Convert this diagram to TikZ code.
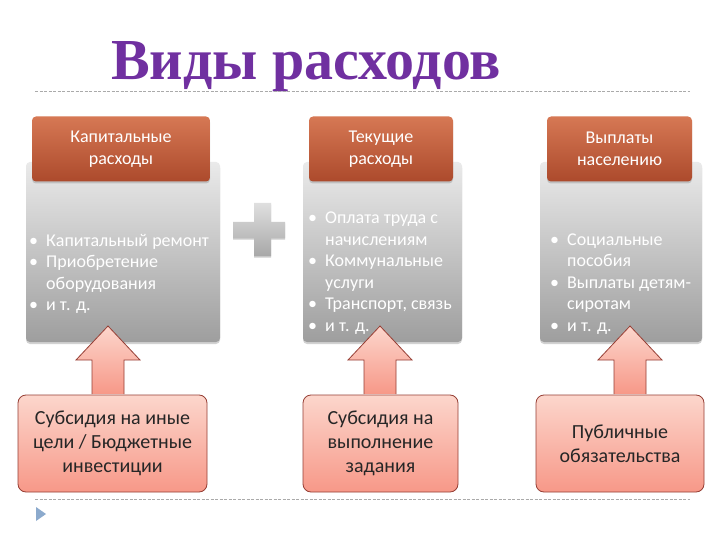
\documentclass[tikz,border=0pt]{standalone}
\usepackage{fontspec}
\setmainfont{Carlito}
\newfontfamily\titlefont{Liberation Serif}
\usetikzlibrary{calc,shadows}
\definecolor{ttl}{RGB}{112,48,160}
\definecolor{hdtop}{RGB}{214,120,84}
\definecolor{hdbot}{RGB}{172,74,44}
\definecolor{grtop}{RGB}{234,234,234}
\definecolor{grbot}{RGB}{158,158,158}
\definecolor{pktop}{RGB}{252,214,204}
\definecolor{pkbot}{RGB}{247,152,136}
\definecolor{pkline}{RGB}{150,62,52}
\definecolor{dashc}{RGB}{170,170,170}
\definecolor{tri}{RGB}{140,170,205}
\newcommand\bl{\makebox[17pt][l]{\textbullet}}
\newcommand\ind{\hspace*{17pt}}
\begin{document}
\begin{tikzpicture}[x=1pt,y=-1pt,
  titlestyle/.style={font=\titlefont\bfseries\fontsize{58}{62}\selectfont, text=ttl, inner sep=0pt},
  graybox/.style={rounded corners=4pt, top color=grtop, bottom color=grbot, draw=none,
     drop shadow={shadow xshift=0pt, shadow yshift=-2pt, opacity=0.35}},
  headbox/.style={rounded corners=4pt, top color=hdtop, bottom color=hdbot, draw=none,
     text=white, align=center, font=\fontsize{18}{22}\selectfont,
     drop shadow={shadow xshift=0pt, shadow yshift=-2pt, opacity=0.35}},
  pinkbox/.style={rounded corners=8pt, top color=pktop, bottom color=pkbot, draw=pkline, line width=0.8pt,
     align=center, font=\fontsize{20}{24}\selectfont, text=black!85},
  listtext/.style={anchor=west, align=left, inner sep=0pt, text=white, font=\fontsize{18}{21.5}\selectfont},
  blockarr/.style={top color=pktop, bottom color=pkbot, draw=pkline, line width=0.8pt, line join=miter},
  sepline/.style={dashc, dashed, dash pattern=on 3pt off 1.5pt, line width=0.6pt}]
\useasboundingbox (0,0) rectangle (720,540);
\fill[white] (0,0) rectangle (720,540);

% title and separators
\node[titlestyle, anchor=base] (title) at (306,80) {Виды расходов};
\coordinate (l1a) at (35,91); \coordinate (l1b) at (690,91);
\draw[sepline] (l1a) -- (l1b);
\coordinate (l2a) at (35,499); \coordinate (l2b) at (690,499);
\draw[sepline] (l2a) -- (l2b);
\fill[tri] (36,507) -- (46,514) -- (36,521) -- cycle;

% gray boxes
\node[graybox, minimum width=194pt, minimum height=180pt] (g1) at (123,252) {};
\node[graybox, minimum width=159pt, minimum height=180pt] (g2) at (382.5,252) {};
\node[graybox, minimum width=162pt, minimum height=180pt] (g3) at (621,252) {};

% headers
\node[headbox, minimum width=178pt, minimum height=65pt] (h1) at (121,149) {Капитальные\\расходы};
\node[headbox, minimum width=144pt, minimum height=65pt] (h2) at (381,149) {Текущие\\расходы};
\node[headbox, minimum width=145pt, minimum height=65pt] (h3) at (619.5,149) {Выплаты\\населению};

% lists
\node[listtext] (t1) at (29,274) {\bl Капитальный ремонт\\\bl Приобретение\\\ind оборудования\\\bl и т. д.};
\node[listtext] (t2) at (308,273) {\bl Оплата труда с\\\ind начислениям\\\bl Коммунальные\\\ind услуги\\\bl Транспорт, связь\\\bl и т. д.};
\node[listtext] (t3) at (550,284) {\bl Социальные\\\ind пособия\\\bl Выплаты детям-\\\ind сиротам\\\bl и т. д.};

% plus sign
\shade[top color=grtop!90!gray, bottom color=grbot!90!white,
  drop shadow={shadow xshift=0pt, shadow yshift=-1.5pt, opacity=0.4}]
  (254,203) -- (271,203) -- (271,222) -- (285,222) -- (285,238) -- (271,238) -- (271,256)
  -- (254,256) -- (254,238) -- (233,238) -- (233,222) -- (254,222) -- cycle;

% pink boxes
\node[pinkbox, minimum width=189pt, minimum height=97pt] (p1) at (112.5,443.5) {Субсидия на иные\\цели / Бюджетные\\инвестиции};
\node[pinkbox, minimum width=155pt, minimum height=97pt] (p2) at (380.5,443.5) {Субсидия на\\выполнение\\задания};
\node[pinkbox, minimum width=168pt, minimum height=97pt] (p3) at (620,443.5) {Публичные\\обязательства};

% block arrows from pink boxes up into gray boxes
\coordinate (a1t) at (108,326);
\coordinate (a2t) at (380,326);
\coordinate (a3t) at (630,326);
\foreach \t/\b in {a1t/p1, a2t/p2, a3t/p3}{
  \path[blockarr] let \p1=(\b.north -| \t), \p2=(\t) in
    (\x1-16pt,\y1+0.5pt) -- (\x1-16pt,\y2-34pt) -- (\x1-32pt,\y2-34pt) -- (\p2)
    -- (\x1+32pt,\y2-34pt) -- (\x1+16pt,\y2-34pt) -- (\x1+16pt,\y1+0.5pt);
}
\end{tikzpicture}
\end{document}
